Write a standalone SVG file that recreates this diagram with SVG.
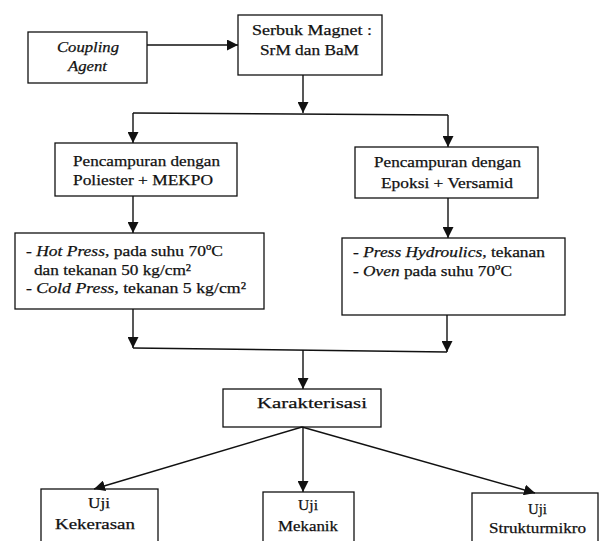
<svg xmlns="http://www.w3.org/2000/svg" width="601" height="541" viewBox="0 0 601 541">
<defs>
<marker id="ah" markerWidth="11" markerHeight="11" refX="11" refY="5.5" orient="auto" markerUnits="userSpaceOnUse">
<path d="M0,0 L11,5.5 L0,11 Z" fill="#111"/>
</marker>
<style>
rect{fill:#fff;stroke:#111;stroke-width:1.3}
text{font-family:"Liberation Serif","Times New Roman",serif;font-size:15.5px;fill:#111;stroke:#111;stroke-width:0.25}
.i{font-style:italic}
#connectors line,#connectors polyline{stroke:#111;stroke-width:1.4;fill:none}
.a{marker-end:url(#ah)}
</style>
</defs>
<rect x="0" y="0" width="601" height="541" style="stroke:none"/>
<g id="coupling">
<rect x="28" y="32" width="119" height="51"/>
<text class="i" x="57" y="52" textLength="62" lengthAdjust="spacingAndGlyphs">Coupling</text>
<text class="i" x="68" y="71" textLength="39" lengthAdjust="spacingAndGlyphs">Agent</text>
</g>
<g id="serbuk">
<rect x="238" y="15" width="144" height="60"/>
<text x="252" y="35" textLength="120" lengthAdjust="spacingAndGlyphs">Serbuk Magnet :</text>
<text x="260" y="55" textLength="99" lengthAdjust="spacingAndGlyphs">SrM dan BaM</text>
</g>
<g id="poliester">
<rect x="55" y="143" width="182" height="53"/>
<text x="73" y="166" textLength="147" lengthAdjust="spacingAndGlyphs">Pencampuran dengan</text>
<text x="73" y="185" textLength="140" lengthAdjust="spacingAndGlyphs">Poliester + MEKPO</text>
</g>
<g id="epoksi">
<rect x="355" y="147" width="183" height="51"/>
<text x="374" y="167" textLength="147" lengthAdjust="spacingAndGlyphs">Pencampuran dengan</text>
<text x="381" y="188" textLength="132" lengthAdjust="spacingAndGlyphs">Epoksi + Versamid</text>
</g>
<g id="press-left">
<rect x="15" y="233" width="249" height="76"/>
<text x="26" y="256" textLength="197" lengthAdjust="spacingAndGlyphs">- <tspan class="i">Hot Press</tspan>, pada suhu 70ºC</text>
<text x="34" y="274.5" textLength="157" lengthAdjust="spacingAndGlyphs">dan tekanan 50 kg/cm²</text>
<text x="26" y="293" textLength="220" lengthAdjust="spacingAndGlyphs">- <tspan class="i">Cold Press</tspan>, tekanan 5 kg/cm²</text>
</g>
<g id="press-right">
<rect x="342" y="238" width="223" height="77"/>
<text x="353" y="257" textLength="192" lengthAdjust="spacingAndGlyphs">- <tspan class="i">Press Hydroulics</tspan>, tekanan</text>
<text x="353" y="276" textLength="159" lengthAdjust="spacingAndGlyphs">- <tspan class="i">Oven</tspan> pada suhu 70ºC</text>
</g>
<g id="karakterisasi">
<rect x="223" y="389" width="158" height="38"/>
<text x="257" y="408" textLength="110" lengthAdjust="spacingAndGlyphs">Karakterisasi</text>
</g>
<g id="kekerasan">
<rect x="41" y="489" width="117" height="60"/>
<text x="88" y="508" textLength="22" lengthAdjust="spacingAndGlyphs">Uji</text>
<text x="55" y="529" textLength="80" lengthAdjust="spacingAndGlyphs">Kekerasan</text>
</g>
<g id="mekanik">
<rect x="263" y="492" width="91" height="60"/>
<text x="298" y="510" textLength="20" lengthAdjust="spacingAndGlyphs">Uji</text>
<text x="278" y="531" textLength="60" lengthAdjust="spacingAndGlyphs">Mekanik</text>
</g>
<g id="strukturmikro">
<rect x="472" y="493" width="126" height="60"/>
<text x="528" y="514" textLength="19" lengthAdjust="spacingAndGlyphs">Uji</text>
<text x="489" y="533" textLength="97" lengthAdjust="spacingAndGlyphs">Strukturmikro</text>
</g>
<g id="connectors">
<line class="a" x1="147" y1="45" x2="238" y2="45"/>
<line class="a" x1="303" y1="75" x2="303" y2="113"/>
<polyline points="133,113 448,115"/>
<line class="a" x1="133" y1="113" x2="133" y2="143"/>
<line class="a" x1="448" y1="115" x2="448" y2="147"/>
<line class="a" x1="133" y1="196" x2="133" y2="233"/>
<line class="a" x1="448" y1="198" x2="448" y2="238"/>
<line class="a" x1="133" y1="309" x2="133" y2="348"/>
<line class="a" x1="447" y1="315" x2="447" y2="352"/>
<polyline points="133,348 447,352"/>
<line class="a" x1="303" y1="350" x2="303" y2="389"/>
<line class="a" x1="302" y1="427" x2="94" y2="489"/>
<line class="a" x1="303" y1="427" x2="303" y2="492"/>
<line class="a" x1="302" y1="427" x2="535" y2="493"/>
</g>
</svg>
